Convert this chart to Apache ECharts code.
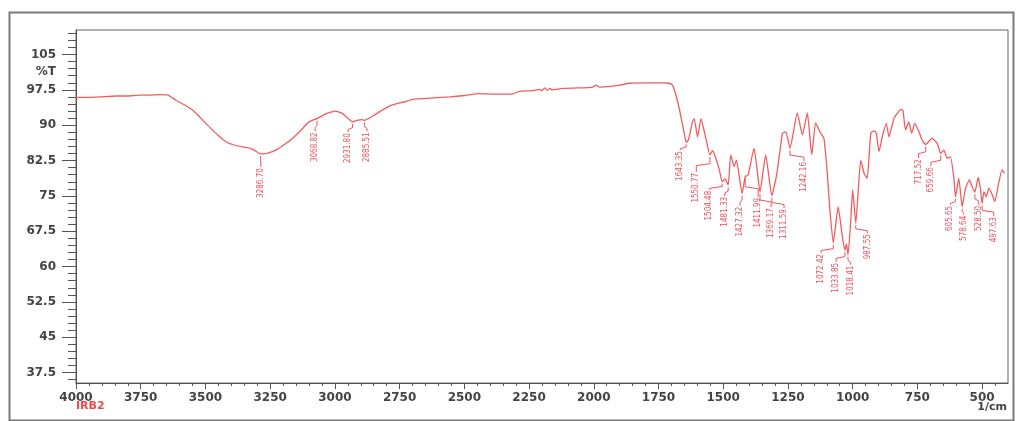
<!DOCTYPE html>
<html>
<head>
<meta charset="utf-8">
<script src="https://cdn.jsdelivr.net/npm/echarts@6/dist/echarts.min.js"></script>
<style>
html,body{margin:0;padding:0;background:#fff;}
#chart{width:1016px;height:421px;}
</style>
</head>
<body>
<div id="chart"></div>
<script>
// ---- data ----
const wavenumbers = [4000,3950,3907,3846,3800,3753,3720,3680,3645,3614,3580,3550,3520,3486,3450,3421,3390,3357,3325,3306,3287,3259,3228,3195,3164,3130,3100,3069,3036,3015,2997,2971,2955,2932,2916,2894,2886,2855,2817,2778,2727,2700,2620,2557,2500,2442,2380,2314,2287,2240,2210,2200,2190,2180,2170,2160,2121,2060,2004,1991,1979,1927,1900,1863,1800,1735,1709,1696,1683,1670,1657,1648,1643,1634,1619,1612,1599,1586,1567,1551,1541,1535,1516,1504,1493,1481,1471,1458,1449,1427,1415,1404,1381,1370,1358,1336,1312,1292,1271,1258,1242,1214,1194,1175,1158,1143,1127,1111,1098,1089,1075,1056,1040,1030,1024,1018,1008,1000,988,969,956,944,930,918,909,898,886,870,860,841,828,815,806,796,783,772,760,744,731,718,693,673,660,648,635,622,609,603,590,577,564,549,539,528,515,506,500,493,484,474,463,451,436,423,413];
const transmittance = [95.9,95.9,96.0,96.2,96.2,96.4,96.4,96.5,96.4,95.3,94.3,93.2,91.6,89.7,87.8,86.5,85.8,85.4,85.1,84.5,83.9,84.1,84.7,85.9,87.2,89.0,90.7,91.4,92.4,92.8,93.0,92.5,91.7,90.7,91.0,91.2,91.0,91.9,93.2,94.3,95.0,95.5,95.8,96.0,96.3,96.7,96.6,96.6,97.2,97.3,97.6,97.3,97.9,97.4,97.8,97.5,97.8,97.9,98.1,98.5,98.1,98.3,98.5,98.9,99.0,99.0,98.9,98.5,96.4,93.6,90.0,87.5,86.4,86.9,90.7,91.4,87.5,91.4,87.2,83.7,84.6,84.0,80.8,78.0,78.6,77.3,83.7,81.2,82.6,75.5,79.1,79.4,85.1,81.0,75.8,83.7,75.0,80.0,88.3,88.6,85.1,92.6,87.9,92.6,83.7,90.5,88.6,87.2,79.8,72.7,65.0,72.7,66.4,63.5,64.8,62.5,69.2,76.3,69.2,82.6,79.8,78.7,88.3,88.8,88.3,84.4,87.5,90.4,87.5,91.4,92.5,93.3,93.2,89.0,90.7,88.3,90.4,88.6,86.8,85.9,87.2,86.1,84.0,84.7,83.0,83.3,78.7,74.8,78.7,72.7,76.6,78.4,77.0,75.8,78.9,76.3,73.4,75.9,74.8,76.6,75.5,73.8,77.7,80.5,79.8];

const peakLabels = ['3286.70','3068.82','2931.80','2885.51','1643.35','1550.77','1504.48','1481.33','1427.32','1411.99','1369.17','1311.59','1242.16','1072.42','1033.85','1018.41','987.55','717.52','659.66','605.65','578.64','528.50','497.63'];
const peakWavenumbers = [3287,3069,2932,2886,1643,1551,1504,1481,1427,1415,1358,1312,1242,1075,1030,1018,988,718,660,603,577,528,500];
const peakTransmittance = [83.9,91.4,90.7,91.0,86.4,83.7,78.0,77.3,75.5,79.1,75.8,75.0,85.1,65.0,63.5,62.5,69.2,85.9,84.0,74.8,72.7,75.8,73.4];

const xTickLabels = [4000,3750,3500,3250,3000,2750,2500,2250,2000,1750,1500,1250,1000,750,500];
const yTickLabels = [37.5,45,52.5,60,67.5,75,82.5,90,97.5,105];

// ---- layout (label anchor points, in axis units) ----
const labelAnchorWn = [3286,3076,2949,2876,1666,1604,1554,1494,1435,1365,1315,1265,1188,1122,1064,1008,943,746,698,623,571,513,455];
const labelAnchorT  = [81.1,88.7,88.5,88.7,84.7,80.1,76.3,75.0,72.9,74.8,72.6,72.4,82.4,62.9,61.0,60.4,67.1,83.0,81.3,73.1,71.0,73.1,70.7];

const X_MIN = 400, X_MAX = 4000, Y_MIN = 35.3, Y_MAX = 110.2;

const lineData = wavenumbers.map((w, i) => [w, transmittance[i]]);
const peakData = peakWavenumbers.map((w, i) => [w, peakTransmittance[i], labelAnchorWn[i], labelAnchorT[i]]);

const xMinor = [];
for (let v = 450; v < 4000; v += 50) if (v % 250 !== 0) xMinor.push(v);
const yMinor = [];
for (let k = 24; k <= 73; k++) { const v = k * 1.5; if (Math.abs((v / 7.5) - Math.round(v / 7.5)) > 1e-6) yMinor.push(v); }

const RED = '#f0505a';
const labelFont = '8px "Liberation Sans Narrow", "DejaVu Sans Condensed", "Noto Sans", sans-serif';

const chart = echarts.init(document.getElementById('chart'), null, { renderer: 'canvas' });

const axisTextStyle = { color: '#444', fontFamily: 'DejaVu Sans', fontWeight: 'bold', fontSize: 12 };

chart.setOption({
  animation: false,
  backgroundColor: '#fff',
  grid: { left: 76, top: 30, right: 8, bottom: 38, show: true, borderColor: '#666', borderWidth: 1, backgroundColor: '#fff' },
  xAxis: [
    {
      type: 'value', min: X_MIN, max: X_MAX, inverse: true, position: 'bottom',
      axisLine: { show: true, lineStyle: { color: '#555', width: 1 } },
      axisTick: { show: true, inside: false, length: 6, customValues: xTickLabels, lineStyle: { color: '#555' } },
      axisLabel: Object.assign({ show: true, margin: 9, customValues: xTickLabels, formatter: v => String(v) }, axisTextStyle),
      splitLine: { show: false }
    },
    {
      type: 'value', min: X_MIN, max: X_MAX, inverse: true, position: 'bottom',
      axisLine: { show: false },
      axisTick: { show: true, inside: false, length: 3, customValues: xMinor, lineStyle: { color: '#555' } },
      axisLabel: { show: false },
      splitLine: { show: false }
    }
  ],
  yAxis: [
    {
      type: 'value', min: Y_MIN, max: Y_MAX, position: 'left',
      axisLine: { show: true, lineStyle: { color: '#555', width: 1 } },
      axisTick: { show: true, inside: false, length: 14, customValues: yTickLabels, lineStyle: { color: '#555' } },
      axisLabel: Object.assign({ show: true, margin: 20, customValues: yTickLabels.concat([101.25]),
        formatter: v => (Math.abs(v - 101.25) < 1e-6 ? '%T' : String(v)) }, axisTextStyle),
      splitLine: { show: false }
    },
    {
      type: 'value', min: Y_MIN, max: Y_MAX, position: 'left',
      axisLine: { show: false },
      axisTick: { show: true, inside: false, length: 8, customValues: yMinor, lineStyle: { color: '#555' } },
      axisLabel: { show: false },
      splitLine: { show: false }
    }
  ],
  graphic: [
    { type: 'rect', left: 7, top: 10, shape: { width: 1004, height: 408 }, style: { fill: null, stroke: '#7a7a7a', lineWidth: 2 }, z: 100, silent: true },
    { type: 'text', left: 76, top: 401, style: { text: 'IRB2', fill: '#f04a4a', font: 'bold 11px "DejaVu Sans"' }, z: 100 },
    { type: 'text', right: 9, top: 402, style: { text: '1/cm', fill: '#444', font: 'bold 11px "DejaVu Sans"' }, z: 100 }
  ],
  series: [
    {
      type: 'line', xAxisIndex: 0, yAxisIndex: 0, data: lineData,
      showSymbol: false, symbol: 'none', smooth: 0.15,
      lineStyle: { color: '#f25c5c', width: 1.3 },
      z: 3
    },
    {
      type: 'custom', xAxisIndex: 0, yAxisIndex: 0, coordinateSystem: 'cartesian2d',
      data: peakData, clip: false, z: 4,
      encode: { x: 0, y: 1 },
      renderItem: function (params, api) {
        const p = api.coord([api.value(0), api.value(1)]);
        const a = api.coord([api.value(2), api.value(3)]);
        const text = peakLabels[params.dataIndex];
        const y0 = p[1] + 2;
        const yTop = a[1];
        const mid = y0 + Math.max(2, (yTop - y0) * 0.45);
        const pts = Math.abs(a[0] - p[0]) < 1.5
          ? [[p[0], y0], [a[0], yTop]]
          : [[p[0], y0], [p[0], mid], [a[0], mid + 2], [a[0], yTop]];
        return {
          type: 'group',
          children: [
            { type: 'polyline', shape: { points: pts }, style: { stroke: RED, lineWidth: 1, fill: null } },
            { type: 'text', x: a[0], y: yTop + 1, rotation: Math.PI / 2,
              style: { text: text, fill: RED, font: labelFont, align: 'right', verticalAlign: 'middle' } }
          ]
        };
      }
    }
  ]
});
</script>
</body>
</html>
